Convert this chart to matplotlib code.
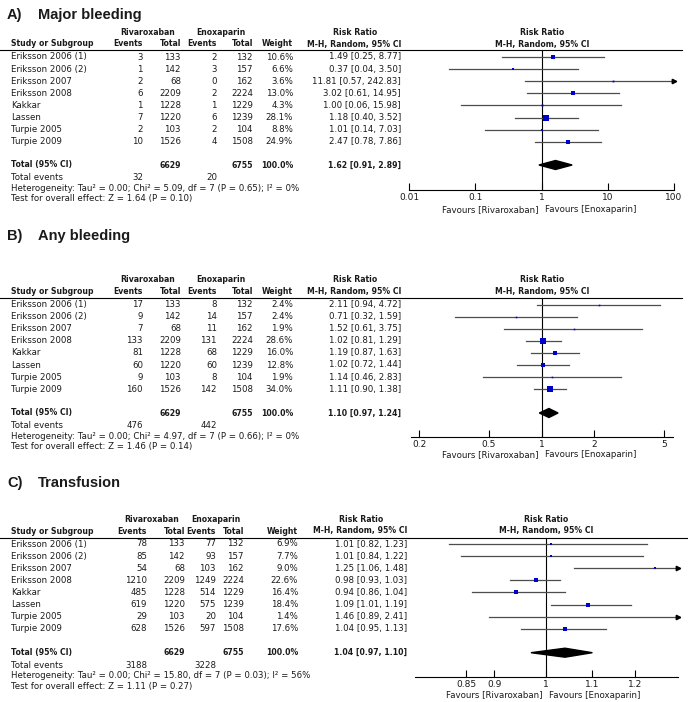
import matplotlib
matplotlib.use("Agg")
import matplotlib.pyplot as plt
from matplotlib.patches import Polygon
from matplotlib.ticker import NullLocator

W, H = 688, 702

studies = ["Eriksson 2006 (1)", "Eriksson 2006 (2)", "Eriksson 2007", "Eriksson 2008",
           "Kakkar", "Lassen", "Turpie 2005", "Turpie 2009"]
riv_tot = [133, 142, 68, 2209, 1228, 1220, 103, 1526]
enx_tot = [132, 157, 162, 2224, 1229, 1239, 104, 1508]
sum_tot = ["6629", "6755"]

# A) Major bleeding
a_riv_ev = [3, 1, 2, 6, 1, 7, 2, 10]
a_enx_ev = [2, 3, 0, 2, 1, 6, 2, 4]
a_weight = [10.6, 6.6, 3.6, 13.0, 4.3, 28.1, 8.8, 24.9]
a_rr = [1.49, 0.37, 11.81, 3.02, 1.00, 1.18, 1.01, 2.47]
a_lo = [0.25, 0.04, 0.57, 0.61, 0.06, 0.40, 0.14, 0.78]
a_hi = [8.77, 3.50, 242.83, 14.95, 15.98, 3.52, 7.03, 7.86]
a_total = [1.62, 0.91, 2.89]
a_events = [32, 20]
a_het = "Heterogeneity: Tau² = 0.00; Chi² = 5.09, df = 7 (P = 0.65); I² = 0%"
a_test = "Test for overall effect: Z = 1.64 (P = 0.10)"
a_ticks = [0.01, 0.1, 1, 10, 100]
a_ticklabels = ["0.01", "0.1", "1", "10", "100"]

# B) Any bleeding
b_riv_ev = [17, 9, 7, 133, 81, 60, 9, 160]
b_enx_ev = [8, 14, 11, 131, 68, 60, 8, 142]
b_weight = [2.4, 2.4, 1.9, 28.6, 16.0, 12.8, 1.9, 34.0]
b_rr = [2.11, 0.71, 1.52, 1.02, 1.19, 1.02, 1.14, 1.11]
b_lo = [0.94, 0.32, 0.61, 0.81, 0.87, 0.72, 0.46, 0.90]
b_hi = [4.72, 1.59, 3.75, 1.29, 1.63, 1.44, 2.83, 1.38]
b_total = [1.10, 0.97, 1.24]
b_events = [476, 442]
b_het = "Heterogeneity: Tau² = 0.00; Chi² = 4.97, df = 7 (P = 0.66); I² = 0%"
b_test = "Test for overall effect: Z = 1.46 (P = 0.14)"
b_ticks = [0.2, 0.5, 1, 2, 5]
b_ticklabels = ["0.2", "0.5", "1", "2", "5"]

# C) Transfusion
c_riv_ev = [78, 85, 54, 1210, 485, 619, 29, 628]
c_enx_ev = [77, 93, 103, 1249, 514, 575, 20, 597]
c_weight = [6.9, 7.7, 9.0, 22.6, 16.4, 18.4, 1.4, 17.6]
c_rr = [1.01, 1.01, 1.25, 0.98, 0.94, 1.09, 1.46, 1.04]
c_lo = [0.82, 0.84, 1.06, 0.93, 0.86, 1.01, 0.89, 0.95]
c_hi = [1.23, 1.22, 1.48, 1.03, 1.04, 1.19, 2.41, 1.13]
c_total = [1.04, 0.97, 1.10]
c_events = [3188, 3228]
c_het = "Heterogeneity: Tau² = 0.00; Chi² = 15.80, df = 7 (P = 0.03); I² = 56%"
c_test = "Test for overall effect: Z = 1.11 (P = 0.27)"
c_ticks = [0.85, 0.9, 1, 1.1, 1.2]
c_ticklabels = ["0.85", "0.9", "1", "1.1", "1.2"]

FS = 6.2
FSB = 5.6   # DejaVu bold is wide, so bold text gets a smaller size
INK = "#1a1a1a"
BLUE = "#0000cc"

fig = plt.figure(figsize=(W / 100, H / 100), dpi=100)


def txt(x, y, s, ha="left", bold=False, size=None, family="DejaVu Sans"):
    if size is None:
        size = FSB if bold else FS
    fig.text(x / W, 1 - y / H, s, ha=ha, va="center", fontsize=size, family=family,
             fontweight="bold" if bold else "normal", color=INK)


def panel(letter, title, riv_ev, enx_ev, weight, rr, lo, hi, total, events, het, test,
          ticks, ticklabels, xlim, lay):
    cols = lay["cols"]  # right edges: riv events, riv total, enx events, enx total, weight, ci
    txt(7, lay["title"], letter, size=10.5, bold=True, family="Liberation Sans")
    txt(38, lay["title"], title, size=10.5, bold=True, family="Liberation Sans")

    h1, h2 = lay["head"]
    txt((cols[0] - 28 + cols[1]) / 2, h1, "Rivaroxaban", ha="center", bold=True)
    txt((cols[2] - 28 + cols[3]) / 2, h1, "Enoxaparin", ha="center", bold=True)
    txt(cols[5] - 46, h1, "Risk Ratio", ha="center", bold=True)
    txt(11, h2, "Study or Subgroup", bold=True)
    for c, s in zip(cols, ["Events", "Total", "Events", "Total", "Weight", "M-H, Random, 95% CI"]):
        txt(c, h2, s, ha="right", bold=True)

    y_line = lay["line"]
    fig.add_artist(plt.Line2D([0, lay["right"] / W], [1 - y_line / H] * 2, color="black", lw=0.8))

    rows = [lay["row0"] + i * lay["dy"] for i in range(len(studies))]
    for i, y in enumerate(rows):
        txt(11, y, studies[i])
        txt(cols[0], y, str(riv_ev[i]), ha="right")
        txt(cols[1], y, str(riv_tot[i]), ha="right")
        txt(cols[2], y, str(enx_ev[i]), ha="right")
        txt(cols[3], y, str(enx_tot[i]), ha="right")
        txt(cols[4], y, f"{weight[i]:.1f}%", ha="right")
        txt(cols[5], y, f"{rr[i]:.2f} [{lo[i]:.2f}, {hi[i]:.2f}]", ha="right")

    yt = lay["total"]
    txt(11, yt, "Total (95% CI)", bold=True)
    txt(cols[1], yt, sum_tot[0], ha="right", bold=True)
    txt(cols[3], yt, sum_tot[1], ha="right", bold=True)
    txt(cols[4], yt, "100.0%", ha="right", bold=True)
    txt(cols[5], yt, f"{total[0]:.2f} [{total[1]:.2f}, {total[2]:.2f}]", ha="right", bold=True)
    ye, yh, yz = lay["foot"]
    txt(11, ye, "Total events")
    txt(cols[0], ye, str(events[0]), ha="right")
    txt(cols[2], ye, str(events[1]), ha="right")
    txt(11, yh, het)
    txt(11, yz, test)

    # forest plot
    x0, x1 = lay["axx"]
    ya = lay["axis"]
    ax = fig.add_axes([x0 / W, 1 - ya / H, (x1 - x0) / W, (ya - y_line) / H])
    ax.set_xscale("log")
    ax.set_xlim(*xlim)
    ax.set_ylim(ya, y_line)
    ax.patch.set_visible(False)
    for s in ["top", "left", "right"]:
        ax.spines[s].set_visible(False)
    ax.spines["bottom"].set_linewidth(0.8)
    ax.set_yticks([])
    ax.set_xticks(ticks)
    ax.set_xticklabels(ticklabels)
    ax.xaxis.set_minor_locator(NullLocator())
    ax.tick_params(axis="x", direction="in", length=5, width=0.8, pad=2.5, labelsize=6.5,
                   labelcolor=INK)
    ax.axvline(1, color="black", lw=0.8)

    for i, y in enumerate(rows):
        a, b = max(lo[i], xlim[0]), min(hi[i], xlim[1])
        ax.plot([a, b], [y, y], color="#4d4d4d", lw=0.9)
        if hi[i] > xlim[1]:
            ax.plot(xlim[1], y, marker=">", ms=3.2, color="black", clip_on=False)
        side = max(1.6, 0.95 * weight[i] ** 0.5)
        ax.plot(rr[i], y, "s", ms=side * 0.72, color=BLUE, mec=BLUE, mew=0)

    ax.add_patch(Polygon([[total[1], yt], [total[0], yt - 4.5], [total[2], yt],
                          [total[0], yt + 4.5]], closed=True, color="black"))

    xc = lay["one"]
    txt(xc, h1, "Risk Ratio", ha="center", bold=True)
    txt(xc, h2, "M-H, Random, 95% CI", ha="center", bold=True)
    txt(xc - 3.5, lay["fav"], "Favours [Rivaroxaban]", ha="right")
    txt(xc + 3.5, lay["fav"], "Favours [Enoxaparin]", ha="left")


lay_a = dict(title=15, head=(32.5, 44), line=49.5, row0=57, dy=12.1, total=165,
             foot=(178, 188.5, 199), axis=189.5, axx=(409.3, 674), one=541.7, fav=209.5,
             right=682, cols=(143, 181, 217, 253, 293, 401))
lay_b = dict(title=236, head=(279.5, 291.5), line=297.5, row0=304.5, dy=12.1, total=413,
             foot=(426, 436.5, 447), axis=437, axx=(410.7, 672.7), one=541.7, fav=454.5,
             right=682, cols=(143, 181, 217, 253, 293, 401))
lay_c = dict(title=483, head=(519.3, 531), line=537.7, row0=544, dy=12.1, total=652.7,
             foot=(665.5, 676, 686.5), axis=676.7, axx=(415, 677.7), one=545.7, fav=695,
             right=687, cols=(147, 185, 216, 244, 298, 407))

panel("A)", "Major bleeding", a_riv_ev, a_enx_ev, a_weight, a_rr, a_lo, a_hi, a_total,
      a_events, a_het, a_test, a_ticks, a_ticklabels, (0.01, 100), lay_a)
panel("B)", "Any bleeding", b_riv_ev, b_enx_ev, b_weight, b_rr, b_lo, b_hi, b_total,
      b_events, b_het, b_test, b_ticks, b_ticklabels, (0.179, 5.59), lay_b)
panel("C)", "Transfusion", c_riv_ev, c_enx_ev, c_weight, c_rr, c_lo, c_hi, c_total,
      c_events, c_het, c_test, c_ticks, c_ticklabels, (0.765, 1.31), lay_c)

fig.savefig("out.png", dpi=100)
